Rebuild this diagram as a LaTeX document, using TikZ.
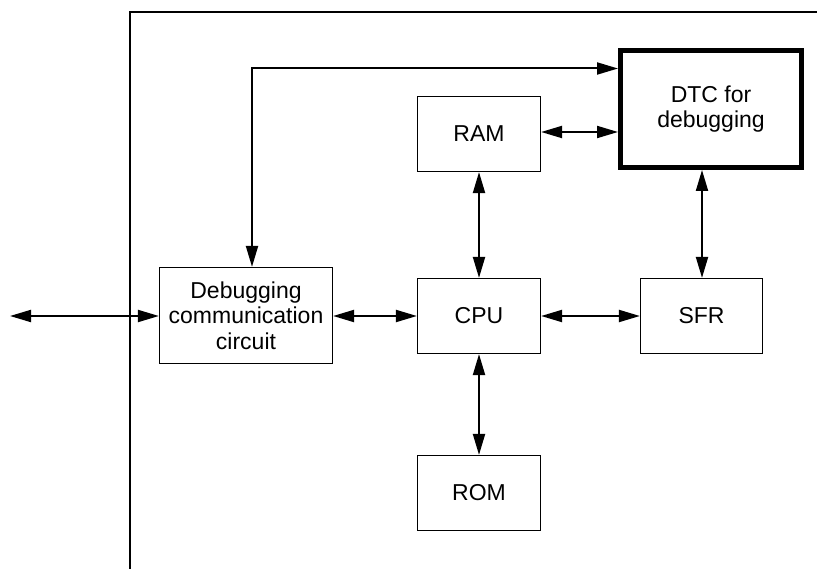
\documentclass[tikz,border=0pt]{standalone}
\usepackage{fontspec}
\setmainfont{Liberation Sans}
\usetikzlibrary{arrows.meta}
\tikzset{
  blk/.style={draw, line width=1.2pt, rectangle, inner sep=0pt, align=center,
    font=\fontsize{23}{25.5}\selectfont},
  thickblk/.style={blk, line width=5pt},
  conn/.style={line width=2pt, {Triangle[length=21pt,width=12pt]}-{Triangle[length=21pt,width=12pt]}},
  conn1/.style={line width=2pt, -{Triangle[length=21pt,width=12pt]}},
  frameline/.style={line width=2pt}
}
\begin{document}
\begin{tikzpicture}[x=1pt,y=-1pt]
\useasboundingbox (0,0) rectangle (817,569);
\draw[frameline] (129.5,569) -- (129.5,12.5) -- (817,12.5);

\node[blk, minimum width=173pt, minimum height=96pt] (dbg) at (246,315.5) {Debugging\\communication\\circuit};
\node[blk, minimum width=123pt, minimum height=75pt] (cpu) at (479,316) {CPU};
\node[blk, minimum width=123pt, minimum height=75pt] (ram) at (479,134) {RAM};
\node[blk, minimum width=123pt, minimum height=75pt] (rom) at (479,493) {ROM};
\node[blk, minimum width=122pt, minimum height=75pt] (sfr) at (701.5,316) {SFR};
\node[thickblk, minimum width=181pt, minimum height=117pt] (dtc) at (711,109) {DTC for\\debugging};

\coordinate (ext) at (10,316);
\coordinate (bend) at (252,68.5);

\draw[conn] (ext) -- (dbg.west |- ext);
\draw[conn] (dbg.east |- cpu.west) -- (cpu.west);
\draw[conn] (cpu.east) -- (sfr.west);
\draw[conn] (ram.south) -- (cpu.north);
\draw[conn] (cpu.south) -- (rom.north);
\draw[conn] (ram.east |- 0,132) -- (dtc.west |- 0,132);
\draw[conn] (sfr.north -| 702,0) -- (dtc.south -| 702,0);
\draw[conn] (dbg.north -| bend) -- (bend) -- (dtc.west |- bend);
\end{tikzpicture}
\end{document}
